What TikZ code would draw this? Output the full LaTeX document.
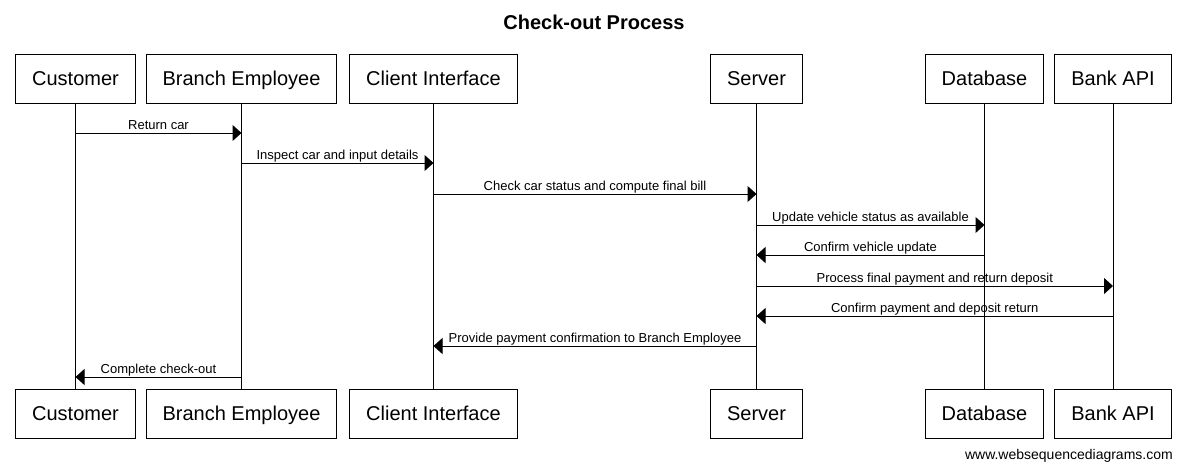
\documentclass[tikz,border=0pt]{standalone}
\usepackage{fontspec}
\setmainfont{Liberation Sans}
\usetikzlibrary{arrows.meta}

\tikzset{
  actor/.style={draw,line width=1pt,minimum height=49pt,inner xsep=16.5pt,
    text height=16pt,text depth=2pt,font=\fontsize{20}{24}\selectfont},
  life/.style={line width=1pt},
  msg/.style={line width=1pt,-{Triangle[length=9pt,width=16pt]}},
  msglabel/.style={anchor=south,inner sep=0pt,text height=10pt,text depth=3pt,
    font=\fontsize{13}{15}\selectfont}
}

\begin{document}
\begin{tikzpicture}[x=1pt,y=-1pt]
  \useasboundingbox (0,0) rectangle (1186,472);
  \node[font=\bfseries\fontsize{20}{24}\selectfont] (title) at (594,22) {Check-out Process};
  % participants, top and bottom
  \foreach \id/\x/\name in {cust/75.5/Customer,emp/241.5/Branch Employee,
      ui/433.5/Client Interface,srv/756.5/Server,db/984.5/Database,bank/1113/Bank API}
  {
    \node[actor] (\id T) at (\x,78.5) {\name};
    \node[actor] (\id B) at (\x,413.5) {\name};
    \draw[life] (\id T.south) -- (\id B.north);
  }
  % messages
  \foreach \a/\b/\y/\t in {custT/empT/133/Return car,
      empT/uiT/163/Inspect car and input details,
      uiT/srvT/194/Check car status and compute final bill,
      srvT/dbT/225/Update vehicle status as available,
      dbT/srvT/255/Confirm vehicle update,
      srvT/bankT/286/Process final payment and return deposit,
      bankT/srvT/316/Confirm payment and deposit return,
      srvT/uiT/346/Provide payment confirmation to Branch Employee,
      empT/custT/377/Complete check-out}
  \draw[msg] (\a |- 0,\y) -- (\b |- 0,\y) node[msglabel,midway] {\t};
  \node[anchor=east,inner sep=0pt,font=\fontsize{14}{16}\selectfont] (site) at (1173,456)
    {www.websequencediagrams.com};
\end{tikzpicture}
\end{document}
